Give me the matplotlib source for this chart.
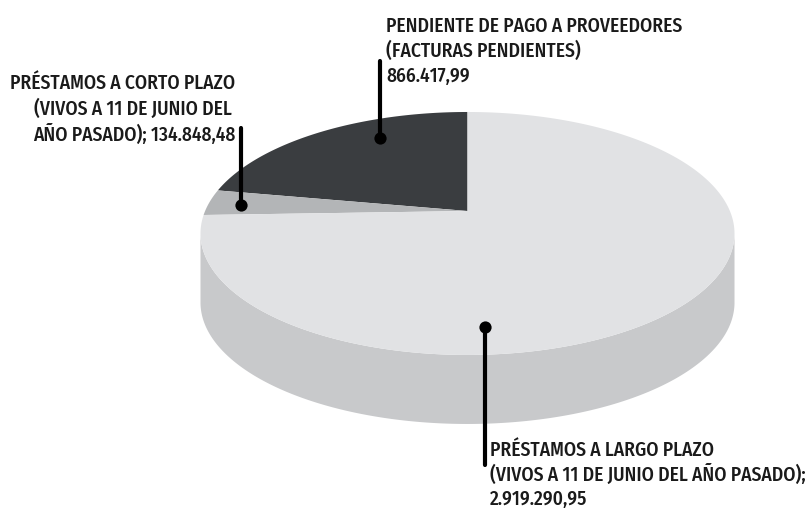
# -*- coding: UTF-8 -*-
import numpy as np
from matplotlib import pyplot as plt

# datos
etiquetas = ['PENDIENTE DE PAGO A PROVEEDORES', 'PRÉSTAMOS A CORTO PLAZO', 'PRÉSTAMOS A LARGO PLAZO']
valores = [866417.99, 134848.48, 2919290.95]
colores = ['#3a3d40', '#b3b5b7', '#e1e2e4']
color_lado = '#c8c9cb'

plt.rcParams['font.family'] = ['Fira Sans Condensed', 'Archivo Narrow', 'Roboto Condensed', 'Liberation Sans', 'DejaVu Sans']

fig = plt.figure(figsize=(8.12, 5.09), dpi=100)
ax = fig.add_axes([0, 0, 1, 1])
ax.set_xlim(0, 812)
ax.set_ylim(509, 0)
ax.axis('off')


# circulo unidad -> elipse con perspectiva (el centro queda desplazado)
def proyecta(ang):
    k = 0.185
    w = 1 + k * np.cos(ang)
    x = 467.5 - 262.4 * np.sin(ang) / w
    y = (211 - 78.3 * np.cos(ang)) / w
    return x, y


# lado del cilindro
t = np.linspace(0, 2 * np.pi, 720)
xr, yr = proyecta(t)
der, izq = np.argmax(xr), np.argmin(xr)
xb, yb = xr[izq:der + 1], yr[izq:der + 1]
ax.fill(np.r_[xb, xb[::-1]], np.r_[yb, yb[::-1] + 69], color=color_lado, lw=0, zorder=1)

# porciones
frac = np.array(valores) / sum(valores)
bordes = np.r_[0, np.cumsum(frac)] * 2 * np.pi
for i in range(len(valores)):
    a = np.linspace(bordes[i], bordes[i + 1], 200)
    x, y = proyecta(a)
    ax.fill(np.r_[467.5, x], np.r_[211, y], color=colores[i], lw=0, zorder=2)

# guias
guias = [(380, 61, 138), (241.5, 128, 205), (484.7, 465, 326.5)]
for gx, y0, y1 in guias:
    ax.plot([gx, gx], [y0, y1], color='black', lw=3, solid_capstyle='round', zorder=3)
    ax.plot(gx, y1, 'o', color='black', ms=8.8, mew=0, zorder=4)

# textos
tam = 14
lineas = [
    (386, 32, 'PENDIENTE DE PAGO A PROVEEDORES', 'left'),
    (386, 57, '(FACTURAS PENDIENTES)', 'left'),
    (386, 82, '866.417,99', 'left'),
    (235, 89, 'PRÉSTAMOS A CORTO PLAZO', 'right'),
    (232, 115, '(VIVOS A 11 DE JUNIO DEL', 'right'),
    (235, 141, 'AÑO PASADO); 134.848,48', 'right'),
    (490, 456, 'PRÉSTAMOS A LARGO PLAZO', 'left'),
    (490, 481, '(VIVOS A 11 DE JUNIO DEL AÑO PASADO);', 'left'),
    (490, 505, '2.919.290,95', 'left'),
]
for x, y, s, al in lineas:
    ax.text(x, y, s, ha=al, va='baseline', fontsize=tam, fontweight=500, color='#1a1a1a')

plt.savefig('out.png', dpi=100)
